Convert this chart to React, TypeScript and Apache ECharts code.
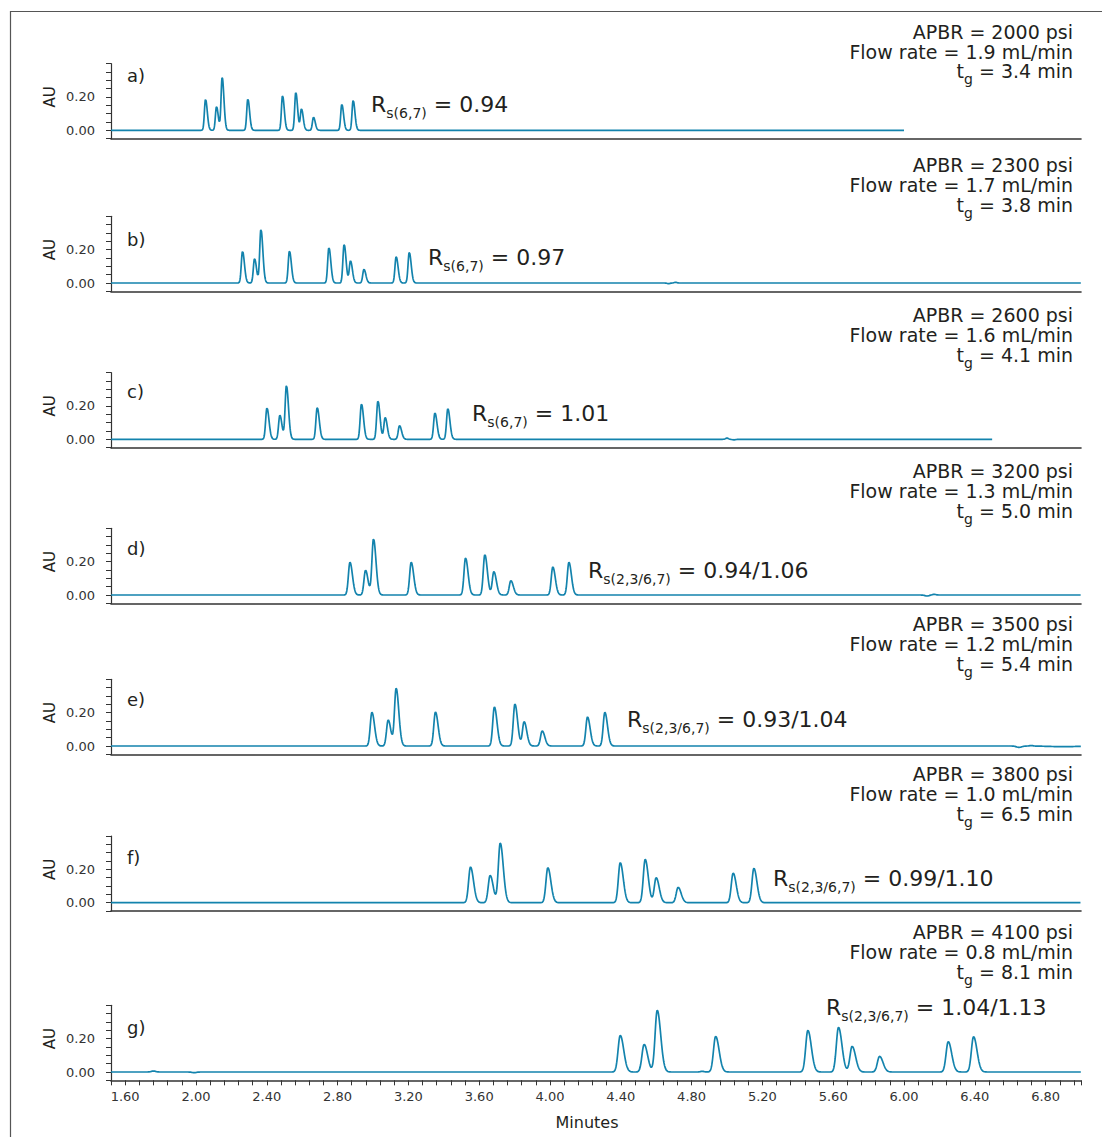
import React, { useEffect, useRef } from "react";
import * as echarts from "echarts";

// ---- run conditions -------------------------------------------------------
const PANEL_TAGS = ["a)", "b)", "c)", "d)", "e)", "f)", "g)"];
const APBR_PSI = ["2000", "2300", "2600", "3200", "3500", "3800", "4100"];
const FLOW_RATES = ["1.9", "1.7", "1.6", "1.3", "1.2", "1.0", "0.8"];
const GRADIENT_TIMES = ["3.4", "3.8", "4.1", "5.0", "5.4", "6.5", "8.1"];
const RS_PAIRS = ["(6,7)", "(6,7)", "(6,7)", "(2,3/6,7)", "(2,3/6,7)", "(2,3/6,7)", "(2,3/6,7)"];
const RS_VALUES = ["0.94", "0.97", "1.01", "0.94/1.06", "0.93/1.04", "0.99/1.10", "1.04/1.13"];
// last recorded time of each run (min)
const RUN_END = [6.0, 7.0, 6.5, 7.0, 7.0, 7.0, 7.0];

// ---- peak tables: retention time (min) and apex height (AU) ----------------
const RT_A = [2.054, 2.116, 2.148, 2.293, 2.489, 2.564, 2.596, 2.664, 2.824, 2.888];
const AU_A = [0.186, 0.142, 0.318, 0.188, 0.208, 0.228, 0.128, 0.078, 0.156, 0.18];
const RT_B = [2.263, 2.331, 2.367, 2.528, 2.751, 2.837, 2.873, 2.949, 3.131, 3.205];
const AU_B = [0.19, 0.146, 0.322, 0.192, 0.212, 0.232, 0.132, 0.082, 0.158, 0.184];
const RT_C = [2.401, 2.474, 2.511, 2.685, 2.935, 3.028, 3.069, 3.15, 3.35, 3.423];
const AU_C = [0.188, 0.144, 0.322, 0.19, 0.212, 0.23, 0.13, 0.082, 0.158, 0.184];
const RT_D = [2.87, 2.958, 3.003, 3.216, 3.523, 3.632, 3.683, 3.779, 4.016, 4.107];
const AU_D = [0.196, 0.148, 0.336, 0.196, 0.222, 0.242, 0.14, 0.086, 0.168, 0.196];
const RT_E = [2.994, 3.086, 3.131, 3.353, 3.686, 3.802, 3.854, 3.956, 4.212, 4.31];
const AU_E = [0.202, 0.156, 0.346, 0.204, 0.234, 0.252, 0.146, 0.09, 0.174, 0.202];
const RT_F = [3.551, 3.662, 3.719, 3.988, 4.397, 4.538, 4.6, 4.724, 5.035, 5.152];
const AU_F = [0.214, 0.164, 0.358, 0.21, 0.24, 0.26, 0.15, 0.092, 0.178, 0.206];
const RT_G = [4.397, 4.532, 4.606, 4.936, 5.457, 5.63, 5.707, 5.862, 6.25, 6.393];
const AU_G = [0.22, 0.166, 0.37, 0.214, 0.25, 0.268, 0.154, 0.094, 0.182, 0.212];

// peak front width (min) per run; tails are wider by PEAK_TAIL
const PEAK_FRONT = [0.0062, 0.0068, 0.0073, 0.0088, 0.0093, 0.0107, 0.0122];
const PEAK_TAIL = 1.6;

// small baseline disturbances: [time (min), height (AU), width (min)]
const DRIFT_A: number[][] = [];
const DRIFT_B = [[4.67, -0.004, 0.008], [4.71, 0.004, 0.008]];
const DRIFT_C = [[5.0, 0.007, 0.008], [5.04, -0.003, 0.01]];
const DRIFT_D = [[6.13, -0.006, 0.012], [6.17, 0.004, 0.01]];
const DRIFT_E = [[6.65, -0.008, 0.015], [6.72, 0.003, 0.01], [6.9, -0.004, 0.08]];
const DRIFT_F: number[][] = [];
const DRIFT_G = [[1.76, 0.006, 0.012], [1.99, -0.004, 0.012], [4.86, 0.004, 0.01]];

// ---- axes ----------------------------------------------------------------
const X_MIN = 1.52;
const X_MAX = 7.0;
const X_TICK = 0.08;
const X_LABEL_FROM = 1.6;
const X_LABEL_EVERY = 0.4;
const Y_MIN = -0.05;
const Y_MAX = 0.4;
const Y_TICK = 0.05;
const Y_LABELS = [0, 0.2];
const SAMPLE_STEP = 0.001;

// ---- layout (px) ----------------------------------------------------------
const W = 1102;
const H = 1137;
const GRID_LEFT = 111;
const GRID_WIDTH = 970;
const PX_PER_AU = 166.67;
const ZERO_Y = [130.3, 283, 439.3, 595, 746, 902.7, 1072];
const INFO_Y = [31.7, 165, 315, 471, 624, 774, 932];
const TAG_Y = [75, 239, 391, 548, 699, 857, 1027];
const RS_X = [371, 428, 472, 588, 627, 773, 826];
const RS_Y = [104.5, 257.5, 413, 570, 719, 878, 1007];

const FONT = "'DejaVu Sans', Verdana, sans-serif";
const INK = "#231f20";
const AXIS = "#333333";
const TRACE = "#1383ad";

const RUNS = [
  { rt: RT_A, au: AU_A, drift: DRIFT_A },
  { rt: RT_B, au: AU_B, drift: DRIFT_B },
  { rt: RT_C, au: AU_C, drift: DRIFT_C },
  { rt: RT_D, au: AU_D, drift: DRIFT_D },
  { rt: RT_E, au: AU_E, drift: DRIFT_E },
  { rt: RT_F, au: AU_F, drift: DRIFT_F },
  { rt: RT_G, au: AU_G, drift: DRIFT_G },
];

function buildTrace(i: number): number[][] {
  const { rt, au, drift } = RUNS[i];
  const front = PEAK_FRONT[i];
  const tail = front * PEAK_TAIL;
  const n = Math.round((RUN_END[i] - X_MIN) / SAMPLE_STEP);
  const pts: number[][] = [];
  for (let k = 0; k <= n; k++) {
    const t = X_MIN + k * SAMPLE_STEP;
    let v = 0;
    for (let p = 0; p < rt.length; p++) {
      const s = t < rt[p] ? front : tail;
      const d = (t - rt[p]) / s;
      if (d > -8 && d < 8) v += au[p] * Math.exp(-0.5 * d * d);
    }
    for (const [c, h, s] of drift) {
      const d = (t - c) / s;
      if (d > -8 && d < 8) v += h * Math.exp(-0.5 * d * d);
    }
    pts.push([+t.toFixed(4), +v.toFixed(5)]);
  }
  return pts;
}

let measureCtx: CanvasRenderingContext2D | null = null;
function textWidth(s: string, size: number): number {
  if (!measureCtx) measureCtx = document.createElement("canvas").getContext("2d");
  if (!measureCtx) return s.length * size * 0.6;
  measureCtx.font = `${size}px 'DejaVu Sans'`;
  return measureCtx.measureText(s).width;
}

function txt(text: string, x: number, y: number, size: number, align = "left", extra: any = {}) {
  return {
    type: "text",
    x,
    y,
    silent: true,
    ...extra,
    style: {
      text,
      fontSize: size,
      fontFamily: FONT,
      fill: INK,
      align,
      textAlign: align,
      verticalAlign: "middle",
      textVerticalAlign: "middle",
    },
  };
}

function near(a: number, b: number) {
  return Math.abs(a - b) < 1e-6;
}

function buildOption() {
  const grids: any[] = [];
  const xAxes: any[] = [];
  const yAxes: any[] = [];
  const series: any[] = [];
  const graphics: any[] = [];
  const last = RUNS.length - 1;

  RUNS.forEach((_, i) => {
    const top = ZERO_Y[i] - Y_MAX * PX_PER_AU;
    const height = (Y_MAX - Y_MIN) * PX_PER_AU;
    grids.push({ left: GRID_LEFT, top, width: GRID_WIDTH, height, containLabel: false });
    const isLast = i === last;
    xAxes.push({
      type: "value",
      gridIndex: i,
      min: X_MIN,
      max: X_MAX,
      interval: X_TICK,
      axisLine: { show: true, onZero: false, lineStyle: { color: AXIS, width: 1.6 } },
      axisTick: { show: isLast, length: 5, lineStyle: { color: AXIS, width: 1 } },
      axisLabel: {
        show: isLast,
        margin: 10,
        fontSize: 13,
        fontFamily: FONT,
        color: AXIS,
        formatter: (v: number) => {
          const k = (v - X_LABEL_FROM) / X_LABEL_EVERY;
          return v > X_LABEL_FROM - 1e-6 && near(k, Math.round(k)) ? v.toFixed(2) : "";
        },
      },
      splitLine: { show: false },
    });
    yAxes.push({
      type: "value",
      gridIndex: i,
      min: Y_MIN,
      max: Y_MAX,
      interval: Y_TICK,
      axisLine: { show: true, onZero: false, lineStyle: { color: AXIS, width: 1.2 } },
      axisTick: { show: true, length: 5, lineStyle: { color: AXIS, width: 1 } },
      axisLabel: {
        margin: 16,
        fontSize: 13,
        fontFamily: FONT,
        color: AXIS,
        formatter: (v: number) => (Y_LABELS.some((l) => near(l, v)) ? v.toFixed(2) : ""),
      },
      splitLine: { show: false },
    });
    series.push({
      type: "line",
      xAxisIndex: i,
      yAxisIndex: i,
      data: buildTrace(i),
      showSymbol: false,
      symbol: "none",
      silent: true,
      clip: true,
      lineStyle: { color: TRACE, width: 1.7 },
    });

    // run conditions, right aligned
    const rx = 1073;
    const lh = 19.8;
    graphics.push(txt(`APBR = ${APBR_PSI[i]} psi`, rx, INFO_Y[i], 19, "right"));
    graphics.push(txt(`Flow rate = ${FLOW_RATES[i]} mL/min`, rx, INFO_Y[i] + lh, 19, "right"));
    const tgTail = ` = ${GRADIENT_TIMES[i]} min`;
    const wTail = textWidth(tgTail, 19);
    const wSub = textWidth("g", 14);
    graphics.push(txt(tgTail, rx, INFO_Y[i] + 2 * lh, 19, "right"));
    graphics.push(txt("g", rx - wTail, INFO_Y[i] + 2 * lh + 8, 14, "right"));
    graphics.push(txt("t", rx - wTail - wSub, INFO_Y[i] + 2 * lh, 19, "right"));

    // panel tag and axis title
    graphics.push(txt(PANEL_TAGS[i], 127, TAG_Y[i], 18));
    graphics.push(
      txt("AU", 50, ZERO_Y[i] - 0.2 * PX_PER_AU, 15, "center", { rotation: Math.PI / 2 })
    );

    // resolution label R_s(...) = value
    const rX = RS_X[i];
    const rY = RS_Y[i];
    const sub = `s${RS_PAIRS[i]}`;
    const wR = textWidth("R", 22);
    const wS = textWidth(sub, 14);
    graphics.push(txt("R", rX, rY, 22));
    graphics.push(txt(sub, rX + wR, rY + 8.5, 14));
    graphics.push(txt(` = ${RS_VALUES[i]}`, rX + wR + wS, rY, 22));
  });

  graphics.push(txt("Minutes", 587, 1122, 16, "center"));
  graphics.push({
    type: "rect",
    silent: true,
    shape: { x: 10.5, y: 11.5, width: 1400, height: 1400 },
    style: { fill: "none", stroke: "#555555", lineWidth: 1.2 },
  });

  return {
    animation: false,
    backgroundColor: "#ffffff",
    grid: grids,
    xAxis: xAxes,
    yAxis: yAxes,
    series,
    graphic: { elements: graphics },
  };
}

export default function App() {
  const ref = useRef<HTMLDivElement>(null);
  useEffect(() => {
    if (!ref.current) return;
    const chart = echarts.init(ref.current, null, { renderer: "svg" });
    chart.setOption(buildOption());
    return () => chart.dispose();
  }, []);
  return (
    <div
      ref={ref}
      style={{ position: "absolute", left: 0, top: 0, width: W, height: H, background: "#fff" }}
    />
  );
}
